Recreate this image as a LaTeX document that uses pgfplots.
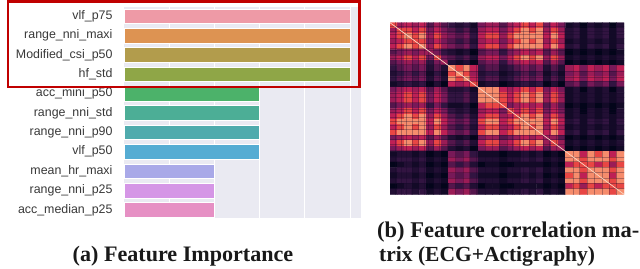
\documentclass[border=0pt]{standalone}
\usepackage{pgfplots}
\pgfplotsset{compat=1.18}
\usepackage{fontspec}
\setmainfont{Liberation Sans}
\newfontfamily\capfont{Liberation Serif}
\definecolor{bgc}{HTML}{EAEAF2}
\definecolor{c1}{HTML}{EE9AA6}
\definecolor{c2}{HTML}{DD9352}
\definecolor{c3}{HTML}{B29C4C}
\definecolor{c4}{HTML}{8FA647}
\definecolor{c5}{HTML}{4CB26A}
\definecolor{c6}{HTML}{4CAE96}
\definecolor{c7}{HTML}{4FABAD}
\definecolor{c8}{HTML}{55ACD3}
\definecolor{c9}{HTML}{A9A9E8}
\definecolor{c10}{HTML}{D596E6}
\definecolor{c11}{HTML}{E690C4}
\definecolor{redbox}{HTML}{C00000}
\begin{document}
\begin{tikzpicture}[x=1pt,y=1pt]
\path[use as bounding box] (0,0) rectangle (640,268);
\begin{axis}[
  at={(124pt,49.9pt)},anchor=south west,scale only axis,
  width=237pt,height=211.4pt,
  xmin=0,xmax=5.24,ymin=-0.48,ymax=10.42,y dir=reverse,
  axis background/.style={fill=bgc},
  axis line style={draw=none},
  xmajorgrids,grid style={white,line width=1pt},
  xtick={1,2,3,4,5},xticklabels={},
  ytick={0,...,10},
  yticklabels={vlf\_p75,range\_nni\_maxi,Modified\_csi\_p50,hf\_std,acc\_mini\_p50,range\_nni\_std,range\_nni\_p90,vlf\_p50,mean\_hr\_maxi,range\_nni\_p25,acc\_median\_p25},
  major tick length=0pt,
  yticklabel style={font=\fontsize{12.4}{14}\selectfont,text=black!78,xshift=-8pt},
  xbar,bar width=14.6pt,
  every axis plot/.append style={bar shift=0pt,draw=white,line width=0.4pt},
]
\addplot[fill=c1] coordinates {(5,0)};
\addplot[fill=c2] coordinates {(5,1)};
\addplot[fill=c3] coordinates {(5,2)};
\addplot[fill=c4] coordinates {(5,3)};
\addplot[fill=c5] coordinates {(3,4)};
\addplot[fill=c6] coordinates {(3,5)};
\addplot[fill=c7] coordinates {(3,6)};
\addplot[fill=c8] coordinates {(3,7)};
\addplot[fill=c9] coordinates {(2,8)};
\addplot[fill=c10] coordinates {(2,9)};
\addplot[fill=c11] coordinates {(2,10)};
\end{axis}
\draw[redbox,line width=2.3pt] (8.3,181) rectangle (359.5,266.5);
\begin{axis}[
  at={(390pt,73.7pt)},anchor=south west,scale only axis,
  width=234pt,height=171.6pt,
  xmin=-0.5,xmax=31.5,ymin=-0.5,ymax=31.5,y dir=reverse,
  axis lines=none,ticks=none,
  colormap={rocket}{rgb255(0cm)=(3,5,26); rgb255(3cm)=(50,20,65); rgb255(5cm)=(120,25,88); rgb255(7cm)=(190,32,85); rgb255(8cm)=(232,70,68); rgb255(9cm)=(246,140,108); rgb255(10cm)=(250,235,221)},
  point meta min=0,point meta max=10,
]
\addplot[matrix plot*,mesh/cols=32,point meta=explicit] table[row sep=\\,header=false,x expr={mod(\coordindex,32)},y expr={floor((\coordindex+0.5)/32)},meta index=0]{
8\\6\\7\\6\\7\\4\\6\\4\\3\\2\\3\\1\\5\\6\\6\\4\\6\\7\\8\\7\\8\\5\\7\\5\\1\\2\\0\\2\\1\\2\\0\\2\\
6\\8\\8\\7\\8\\5\\7\\5\\4\\3\\4\\2\\6\\7\\7\\5\\7\\8\\9\\8\\9\\6\\8\\6\\2\\3\\1\\3\\2\\3\\1\\3\\
7\\8\\9\\8\\9\\6\\8\\6\\5\\4\\5\\3\\7\\8\\8\\6\\8\\9\\9\\9\\9\\7\\9\\7\\2\\3\\1\\3\\2\\3\\1\\3\\
6\\7\\8\\8\\8\\5\\7\\5\\4\\3\\4\\2\\6\\7\\7\\5\\7\\8\\9\\8\\9\\6\\8\\6\\1\\2\\1\\2\\1\\2\\1\\2\\
7\\8\\9\\8\\9\\6\\8\\6\\5\\4\\5\\3\\7\\8\\8\\6\\8\\9\\9\\9\\9\\7\\9\\7\\2\\3\\1\\3\\2\\3\\1\\3\\
4\\5\\6\\5\\6\\6\\5\\3\\2\\1\\2\\0\\4\\5\\5\\3\\5\\6\\7\\6\\7\\4\\6\\4\\0\\1\\0\\1\\0\\1\\0\\1\\
6\\7\\8\\7\\8\\5\\8\\5\\4\\3\\4\\2\\6\\7\\7\\5\\7\\8\\9\\8\\9\\6\\8\\6\\1\\2\\1\\2\\1\\2\\1\\2\\
4\\5\\6\\5\\6\\3\\5\\6\\2\\1\\2\\0\\4\\5\\5\\3\\5\\6\\7\\6\\7\\4\\6\\4\\0\\1\\0\\1\\0\\1\\0\\1\\
3\\4\\5\\4\\5\\2\\4\\2\\9\\8\\9\\7\\3\\4\\4\\2\\3\\4\\5\\4\\5\\2\\4\\2\\6\\7\\5\\7\\6\\7\\5\\7\\
2\\3\\4\\3\\4\\1\\3\\1\\8\\9\\8\\6\\2\\3\\3\\1\\2\\3\\4\\3\\4\\1\\3\\1\\5\\6\\4\\6\\5\\6\\4\\6\\
3\\4\\5\\4\\5\\2\\4\\2\\9\\8\\9\\7\\3\\4\\4\\2\\3\\4\\5\\4\\5\\2\\4\\2\\6\\7\\5\\7\\6\\7\\5\\7\\
1\\2\\3\\2\\3\\0\\2\\0\\7\\6\\7\\8\\1\\2\\2\\0\\1\\2\\3\\2\\3\\0\\2\\0\\4\\5\\3\\5\\4\\5\\3\\5\\
5\\6\\7\\6\\7\\4\\6\\4\\2\\2\\3\\1\\9\\9\\9\\7\\6\\7\\8\\7\\8\\5\\7\\5\\1\\2\\0\\2\\1\\2\\0\\2\\
6\\7\\8\\7\\8\\5\\7\\5\\3\\3\\4\\2\\9\\9\\9\\8\\7\\8\\9\\8\\9\\6\\8\\6\\1\\2\\1\\2\\1\\2\\1\\2\\
6\\7\\8\\7\\8\\5\\7\\5\\3\\3\\4\\2\\9\\9\\9\\8\\7\\8\\9\\8\\9\\6\\8\\6\\1\\2\\1\\2\\1\\2\\1\\2\\
4\\5\\6\\5\\6\\3\\5\\3\\1\\1\\2\\0\\7\\8\\8\\8\\5\\6\\7\\6\\7\\4\\6\\4\\0\\1\\0\\1\\0\\1\\0\\1\\
6\\7\\8\\7\\8\\5\\7\\5\\3\\2\\3\\1\\6\\7\\7\\5\\8\\7\\8\\7\\8\\5\\7\\5\\1\\2\\0\\2\\1\\2\\0\\2\\
7\\8\\9\\8\\9\\6\\8\\6\\4\\3\\4\\2\\7\\8\\8\\6\\7\\8\\9\\8\\9\\6\\8\\6\\1\\2\\1\\2\\1\\2\\1\\2\\
8\\9\\9\\9\\9\\7\\9\\7\\5\\4\\5\\3\\8\\9\\9\\7\\8\\9\\9\\9\\9\\7\\9\\7\\2\\3\\1\\3\\2\\3\\1\\3\\
7\\8\\9\\8\\9\\6\\8\\6\\4\\3\\4\\2\\7\\8\\8\\6\\7\\8\\9\\8\\9\\6\\8\\6\\1\\2\\1\\2\\1\\2\\1\\2\\
8\\9\\9\\9\\9\\7\\9\\7\\5\\4\\5\\3\\8\\9\\9\\7\\8\\9\\9\\9\\9\\7\\9\\7\\2\\3\\1\\3\\2\\3\\1\\3\\
5\\6\\7\\6\\7\\4\\6\\4\\2\\1\\2\\0\\5\\6\\6\\4\\5\\6\\7\\6\\7\\6\\6\\4\\0\\1\\0\\1\\0\\1\\0\\1\\
7\\8\\9\\8\\9\\6\\8\\6\\4\\3\\4\\2\\7\\8\\8\\6\\7\\8\\9\\8\\9\\6\\8\\6\\1\\2\\1\\2\\1\\2\\1\\2\\
5\\6\\7\\6\\7\\4\\6\\4\\2\\1\\2\\0\\5\\6\\6\\4\\5\\6\\7\\6\\7\\4\\6\\6\\0\\1\\0\\1\\0\\1\\0\\1\\
1\\2\\2\\1\\2\\0\\1\\0\\5\\4\\5\\3\\1\\1\\1\\0\\1\\1\\2\\1\\2\\0\\1\\0\\9\\9\\7\\9\\8\\9\\7\\9\\
2\\3\\3\\2\\3\\1\\2\\1\\6\\5\\6\\4\\2\\2\\2\\1\\2\\2\\3\\2\\3\\1\\2\\1\\9\\9\\8\\9\\9\\9\\8\\9\\
0\\1\\2\\1\\2\\0\\1\\0\\4\\3\\4\\2\\0\\1\\1\\0\\0\\1\\1\\1\\1\\0\\1\\0\\7\\8\\8\\8\\7\\8\\6\\8\\
2\\3\\3\\2\\3\\1\\2\\1\\6\\5\\6\\4\\2\\2\\2\\1\\2\\2\\3\\2\\3\\1\\2\\1\\9\\9\\8\\9\\9\\9\\8\\9\\
1\\2\\2\\1\\2\\0\\1\\0\\5\\4\\5\\3\\1\\1\\1\\0\\1\\1\\2\\1\\2\\0\\1\\0\\8\\9\\7\\9\\9\\9\\7\\9\\
2\\3\\3\\2\\3\\1\\2\\1\\6\\5\\6\\4\\2\\2\\2\\1\\2\\2\\3\\2\\3\\1\\2\\1\\9\\9\\8\\9\\9\\9\\8\\9\\
0\\1\\2\\1\\2\\0\\1\\0\\4\\3\\4\\2\\0\\1\\1\\0\\0\\1\\1\\1\\1\\0\\1\\0\\7\\8\\6\\8\\7\\8\\8\\8\\
2\\3\\3\\2\\3\\1\\2\\1\\6\\5\\6\\4\\2\\2\\2\\1\\2\\2\\3\\2\\3\\1\\2\\1\\9\\9\\8\\9\\9\\9\\8\\9\\
};
% fine dark stripes of the matrix, vertical then horizontal
\addplot[color={rgb,255:red,20;green,8;blue,40},line width=0.8pt,opacity=0.3,forget plot] coordinates {
(0.2,-1)(0.2,32)(1.1,32)(1.1,-1)(1.7,-1)(1.7,32)(2.5,32)(2.5,-1)(3.4,-1)(3.4,32)(4.2,32)(4.2,-1)(4.7,-1)(4.7,32)(5.5,32)(5.5,-1)(6.2,-1)(6.2,32)(7.3,32)(7.3,-1)(8.5,-1)(8.5,32)(9.6,32)(9.6,-1)(10.4,-1)(10.4,32)(11.3,32)(11.3,-1)(12.6,-1)(12.6,32)(13.5,32)(13.5,-1)(14.4,-1)(14.4,32)(15.6,32)(15.6,-1)(16.3,-1)(16.3,32)(17.2,32)(17.2,-1)(17.8,-1)(17.8,32)(18.6,32)(18.6,-1)(19.4,-1)(19.4,32)(20.5,32)(20.5,-1)(21.3,-1)(21.3,32)(22.2,32)(22.2,-1)(23.3,-1)(23.3,32)(24.6,32)(24.6,-1)(25.4,-1)(25.4,32)(26.5,32)(26.5,-1)(27.4,-1)(27.4,32)(28.6,32)(28.6,-1)(29.5,-1)(29.5,32)(30.4,32)(30.4,-1)};
\addplot[color={rgb,255:red,20;green,8;blue,40},line width=0.6pt,opacity=0.3,forget plot] coordinates {
(-1,0.2)(32,0.2)(32,1.1)(-1,1.1)(-1,1.7)(32,1.7)(32,2.5)(-1,2.5)(-1,3.4)(32,3.4)(32,4.2)(-1,4.2)(-1,4.7)(32,4.7)(32,5.5)(-1,5.5)(-1,6.2)(32,6.2)(32,7.3)(-1,7.3)(-1,8.5)(32,8.5)(32,9.6)(-1,9.6)(-1,10.4)(32,10.4)(32,11.3)(-1,11.3)(-1,12.6)(32,12.6)(32,13.5)(-1,13.5)(-1,14.4)(32,14.4)(32,15.6)(-1,15.6)(-1,16.3)(32,16.3)(32,17.2)(-1,17.2)(-1,17.8)(32,17.8)(32,18.6)(-1,18.6)(-1,19.4)(32,19.4)(32,20.5)(-1,20.5)(-1,21.3)(32,21.3)(32,22.2)(-1,22.2)(-1,23.3)(32,23.3)(32,24.6)(-1,24.6)(-1,25.4)(32,25.4)(32,26.5)(-1,26.5)(-1,27.4)(32,27.4)(32,28.6)(-1,28.6)(-1,29.5)(32,29.5)(32,30.4)(-1,30.4)};
\addplot[color={rgb,255:red,250;green,215;blue,195},line width=0.7pt,forget plot] coordinates {(-0.5,-0.5)(31.5,31.5)};
\end{axis}
\node[anchor=base,font=\capfont\bfseries\fontsize{22.1}{24}\selectfont,inner sep=0pt,text=black!90] at (183,6.5) {(a) Feature Importance};
\node[anchor=base west,font=\capfont\bfseries\fontsize{22.5}{24}\selectfont,inner sep=0pt,text=black!90] at (377,31) {(b) Feature correlation ma-};
\node[anchor=base west,font=\capfont\bfseries\fontsize{21.5}{24}\selectfont,inner sep=0pt,text=black!90] at (379,6.5) {trix (ECG+Actigraphy)};
\end{tikzpicture}
\end{document}
